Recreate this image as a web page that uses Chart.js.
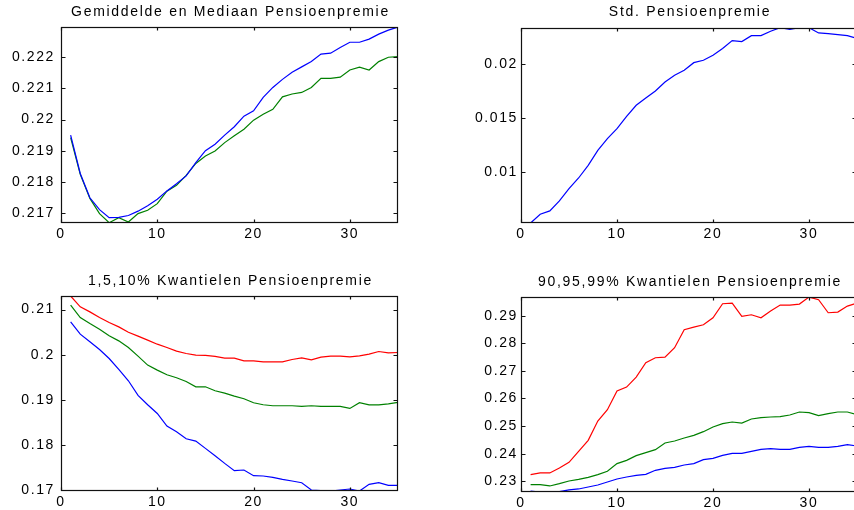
<!DOCTYPE html>
<html>
<head>
<meta charset="utf-8">
<title>Pensioenpremie</title>
<script src="https://cdn.jsdelivr.net/npm/chart.js@4.4.1/dist/chart.umd.min.js"></script>
<style>
  html, body { margin: 0; padding: 0; background: #fff; overflow: hidden; width: 854px; height: 510px; }
  canvas { position: absolute; }
</style>
</head>
<body>
<canvas id="gemMed" width="427" height="255" style="left:0;top:0"></canvas>
<canvas id="stdPremie" width="440" height="255" style="left:427px;top:0"></canvas>
<canvas id="kwLaag" width="427" height="255" style="left:0;top:255px"></canvas>
<canvas id="kwHoog" width="440" height="255" style="left:427px;top:255px"></canvas>
<script>
// jaren (x-as)
const periods = [1, 2, 3, 4, 5, 6, 7, 8, 9, 10, 11, 12, 13, 14, 15, 16, 17, 18, 19, 20,
  21, 22, 23, 24, 25, 26, 27, 28, 29, 30, 31, 32, 33, 34, 35];
const xTicks = [0, 10, 20, 30];

// gemiddelde en mediaan
const gemiddelde = [0.2195, 0.21827, 0.21749, 0.21711, 0.21685, 0.21686, 0.21692, 0.21706, 0.21723, 0.21744,
  0.21771, 0.21794, 0.21819, 0.21862, 0.219, 0.21921, 0.2195, 0.21977, 0.22011, 0.22028,
  0.22071, 0.22103, 0.22129, 0.22152, 0.22169, 0.22186, 0.2221, 0.22213, 0.22231, 0.22248,
  0.22248, 0.22258, 0.22274, 0.22287, 0.22297];
const mediaan = [0.21942, 0.21824, 0.21747, 0.21698, 0.21669, 0.21685, 0.21671, 0.21698, 0.21709, 0.2173,
  0.2177, 0.21789, 0.21821, 0.21859, 0.21883, 0.21899, 0.21926, 0.21948, 0.21969, 0.21998,
  0.22017, 0.22033, 0.22073, 0.22082, 0.22087, 0.22103, 0.22132, 0.22132, 0.22136, 0.22159,
  0.22168, 0.22159, 0.22186, 0.222, 0.22202];
const gemMedTicks = [0.217, 0.218, 0.219, 0.22, 0.221, 0.222];

// standaarddeviatie
const stdev = [0.00526, 0.00607, 0.00638, 0.00731, 0.00845, 0.00944, 0.01062, 0.01201, 0.0131, 0.01402,
  0.01517, 0.01619, 0.01687, 0.01752, 0.01836, 0.01898, 0.01944, 0.02015, 0.02037, 0.02084,
  0.02146, 0.0222, 0.02211, 0.02266, 0.02266, 0.02307, 0.0234, 0.02325, 0.0234, 0.0234,
  0.02291, 0.02285, 0.02276, 0.02266, 0.0224];
const stdTicks = [0.01, 0.015, 0.02];

// 1, 5, 10% kwantielen
const kw1 = [0.20727, 0.20454, 0.20284, 0.20114, 0.19915, 0.19672, 0.19421, 0.19096, 0.18889, 0.18697,
  0.18417, 0.18292, 0.18137, 0.18085, 0.17923, 0.1776, 0.1759, 0.17428, 0.17443, 0.17317,
  0.1731, 0.1728, 0.17236, 0.17199, 0.17162, 0.17, 0.16985, 0.16978, 0.17, 0.17022,
  0.16978, 0.17125, 0.17162, 0.17103, 0.17103];
const kw5 = [0.21096, 0.20823, 0.2069, 0.20565, 0.20417, 0.20306, 0.20159, 0.19967, 0.19768, 0.19657,
  0.19554, 0.19487, 0.19406, 0.19288, 0.19288, 0.19199, 0.19148, 0.19081, 0.19022, 0.18934,
  0.18889, 0.18867, 0.18867, 0.18867, 0.18852, 0.18867, 0.18852, 0.18852, 0.18852, 0.18808,
  0.18934, 0.18889, 0.18889, 0.18911, 0.18941];
const kw10 = [0.213, 0.21059, 0.20948, 0.20823, 0.20712, 0.20616, 0.20498, 0.2041, 0.20321, 0.20232,
  0.20159, 0.20077, 0.20026, 0.19989, 0.19982, 0.1996, 0.19923, 0.19923, 0.19863, 0.19863,
  0.19841, 0.19841, 0.19841, 0.19893, 0.1993, 0.19886, 0.19945, 0.19967, 0.19967, 0.19952,
  0.19974, 0.20011, 0.2007, 0.20041, 0.20048];
const kwLaagTicks = [0.17, 0.18, 0.19, 0.2, 0.21];

// 90, 95, 99% kwantielen
const kw90 = [0.22647, 0.2261, 0.2261, 0.22623, 0.22684, 0.2272, 0.22792, 0.22865, 0.22973, 0.23082,
  0.23155, 0.23215, 0.23251, 0.23396, 0.23469, 0.23505, 0.2359, 0.23638, 0.23783, 0.23831,
  0.2394, 0.24012, 0.24012, 0.24085, 0.24157, 0.24181, 0.24157, 0.24157, 0.2423, 0.24266,
  0.2423, 0.2423, 0.24266, 0.24326, 0.24278];
const kw95 = [0.22877, 0.22877, 0.22829, 0.22913, 0.2301, 0.2307, 0.23142, 0.23239, 0.2336, 0.23638,
  0.23758, 0.23928, 0.24036, 0.24145, 0.24386, 0.24459, 0.24568, 0.24664, 0.24797, 0.24966,
  0.25087, 0.25147, 0.25111, 0.25256, 0.25304, 0.25329, 0.25341, 0.25401, 0.2551, 0.25486,
  0.25377, 0.25449, 0.2551, 0.2551, 0.25413];
const kw99 = [0.23239, 0.233, 0.233, 0.23481, 0.23686, 0.24085, 0.24483, 0.25184, 0.25594, 0.2627,
  0.26415, 0.26778, 0.27297, 0.27478, 0.27502, 0.27841, 0.28493, 0.28589, 0.28674, 0.28928,
  0.29435, 0.29459, 0.28976, 0.29036, 0.28928, 0.29169, 0.29386, 0.29386, 0.29423, 0.29676,
  0.2958, 0.29109, 0.29133, 0.2935, 0.29459];
const kwHoogTicks = [0.23, 0.24, 0.25, 0.26, 0.27, 0.28, 0.29];

const BLUE = '#0000ff';
const GREEN = '#008000';
const RED = '#ff0000';
const FONT = '"Liberation Sans", Arial, Helvetica, sans-serif';

Chart.defaults.font.family = FONT;
Chart.defaults.font.size = 14;
Chart.defaults.color = '#000';

// matlab-achtige kader, binnenste tickjes en titel
const boxPlugin = {
  id: 'matlabBox',
  beforeDraw(chart) {
    chart.ctx.letterSpacing = '1.6px';
  },
  afterDraw(chart, args, opts) {
    const ctx = chart.ctx;
    const a = chart.chartArea;
    const l = Math.round(a.left) + 0.5;
    const r = Math.round(a.right) - 0.5;
    const t = Math.round(a.top) + 0.5;
    const b = Math.round(a.bottom) - 0.5;
    ctx.save();
    ctx.strokeStyle = '#111';
    ctx.lineWidth = 1.2;
    ctx.strokeRect(l, t, r - l, b - t);
    ctx.beginPath();
    chart.scales.x.ticks.forEach(tk => {
      const px = Math.round(chart.scales.x.getPixelForValue(tk.value)) + 0.5;
      ctx.moveTo(px, b); ctx.lineTo(px, b - 3);
      ctx.moveTo(px, t); ctx.lineTo(px, t + 3);
    });
    chart.scales.y.ticks.forEach(tk => {
      const py = Math.round(chart.scales.y.getPixelForValue(tk.value)) + 0.5;
      ctx.moveTo(l, py); ctx.lineTo(l + 4, py);
      ctx.moveTo(r, py); ctx.lineTo(r - 4, py);
    });
    ctx.stroke();

    ctx.fillStyle = '#000';
    ctx.font = '14px ' + FONT;
    ctx.letterSpacing = '1.7px';
    ctx.textAlign = 'center';
    ctx.textBaseline = 'middle';
    ctx.fillText(opts.text, (a.left + a.right) / 2 + 1, opts.y);
    ctx.restore();
  }
};

function makePanel(id, series, yTicks, yMin, yMax, pad, yW, xH, yPad, title, titleY) {
  new Chart(document.getElementById(id), {
    type: 'line',
    data: {
      datasets: series.map(s => ({
        data: periods.map((p, i) => ({ x: p, y: s.values[i] })),
        borderColor: s.color,
        borderWidth: 1.2,
        pointRadius: 0,
        fill: false,
        tension: 0
      }))
    },
    options: {
      responsive: false,
      animation: false,
      devicePixelRatio: 1,
      layout: { padding: pad },
      plugins: {
        legend: { display: false },
        tooltip: { enabled: false },
        matlabBox: { text: title, y: titleY }
      },
      scales: {
        x: {
          type: 'linear',
          min: 0,
          max: 35,
          grid: { display: false, drawTicks: false },
          border: { display: false },
          afterBuildTicks: s => { s.ticks = xTicks.map(v => ({ value: v })); },
          ticks: { padding: 3, maxRotation: 0, autoSkip: false },
          afterFit: s => { s.height = xH; }
        },
        y: {
          min: yMin,
          max: yMax,
          grid: { display: false, drawTicks: false },
          border: { display: false },
          afterBuildTicks: s => { s.ticks = yTicks.map(v => ({ value: v })); },
          ticks: { padding: yPad, callback: v => String(v) },
          afterFit: s => { s.width = yW; }
        }
      }
    },
    plugins: [boxPlugin]
  });
}

makePanel('gemMed',
  [{ values: gemiddelde, color: BLUE }, { values: mediaan, color: GREEN }],
  gemMedTicks, 0.21668, 0.22297,
  { left: 0, top: 27, right: 29, bottom: 12 }, 61, 20, 6,
  'Gemiddelde en Mediaan Pensioenpremie', 12);

makePanel('stdPremie',
  [{ values: stdev, color: BLUE }],
  stdTicks, 0.00526, 0.02337,
  { left: 0, top: 28, right: 10, bottom: 12 }, 94, 20, 3,
  'Std. Pensioenpremie', 12.5);

makePanel('kwLaag',
  [{ values: kw10, color: RED }, { values: kw5, color: GREEN }, { values: kw1, color: BLUE }],
  kwLaagTicks, 0.16978, 0.2130,
  { left: 0, top: 41, right: 29, bottom: 0 }, 61, 19, 6,
  '1,5,10% Kwantielen Pensioenpremie', 26);

makePanel('kwHoog',
  [{ values: kw99, color: RED }, { values: kw95, color: GREEN }, { values: kw90, color: BLUE }],
  kwHoogTicks, 0.2261, 0.2968,
  { left: 0, top: 42, right: 10, bottom: 0 }, 94, 18, 3,
  '90,95,99% Kwantielen Pensioenpremie', 27);
</script>
</body>
</html>
